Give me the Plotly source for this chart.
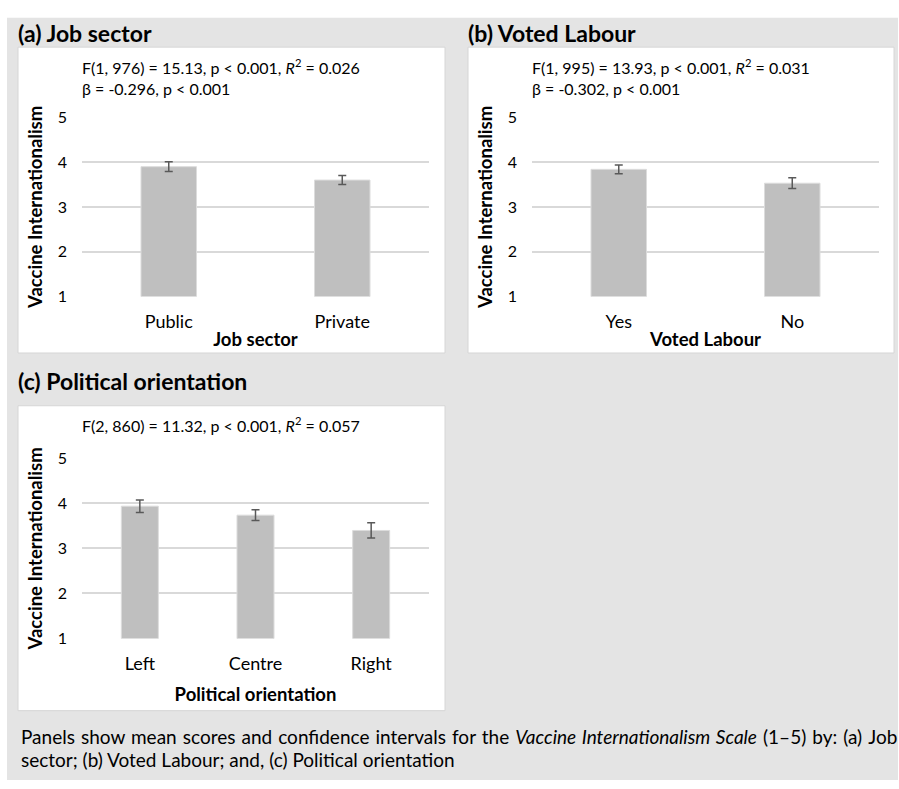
import plotly.graph_objects as go

# ---- data -------------------------------------------------------------
sector_cats = ["Public", "Private"]
sector_means = [3.90, 3.60]
sector_ci = [0.11, 0.10]

labour_cats = ["Yes", "No"]
labour_means = [3.84, 3.53]
labour_ci = [0.10, 0.12]

politics_cats = ["Left", "Centre", "Right"]
politics_means = [3.94, 3.74, 3.40]
politics_ci = [0.14, 0.12, 0.17]

y_ticks = [1, 2, 3, 4, 5]

y_title = "Vaccine Internationalism"
x_titles = ["Job sector", "Voted Labour", "Political orientation"]

# ---- page geometry (pixels) ------------------------------------------
W, H = 899, 789
FONT = "Lato"
BAR = "#BFBFBF"
GRID = "#D9D9D9"
PAD = 0.005  # tiny range padding so the gridlines at 1 and 5 are kept


def px(x):
    return x / W


def py(y):
    return 1 - y / H


fig = go.Figure()

panels = [
    # (x-axis id, y-axis id, categories, means, ci, x px range, y px range)
    ("x", "y", sector_cats, sector_means, sector_ci, (82, 429), (110, 293)),
    ("x2", "y2", labour_cats, labour_means, labour_ci, (532, 879), (110, 293)),
    ("x3", "y3", politics_cats, politics_means, politics_ci, (82, 429), (459, 643)),
]
x_title_standoff = [2, 2, 15]

for xa, ya, cats, means, ci, _, _ in panels:
    fig.add_trace(go.Bar(
        x=cats, y=means, xaxis=xa, yaxis=ya,
        marker=dict(color=BAR, line=dict(color="#DCDCDC", width=1)),
        error_y=dict(type="data", array=ci, visible=True,
                     color="#595959", thickness=1.5, width=4),
        width=0.32, showlegend=False, hoverinfo="skip",
    ))

layout = dict(
    width=W, height=H,
    margin=dict(l=0, r=0, t=0, b=0),
    paper_bgcolor="white", plot_bgcolor="rgba(0,0,0,0)",
    font=dict(family=FONT, size=15, color="#000000"),
    showlegend=False,
)

for i, (xa, ya, cats, means, ci, xr, yr) in enumerate(panels):
    suffix = "" if i == 0 else str(i + 1)
    unit = (yr[1] - yr[0]) / 4.0
    layout["xaxis" + suffix] = dict(
        domain=[px(xr[0]), px(xr[1])], anchor=ya,
        showgrid=False, showline=False, zeroline=False,
        ticks="", tickfont=dict(family=FONT, size=18, color="#000"),
        ticklabelstandoff=12, fixedrange=True,
        title=dict(text=f"<b>{x_titles[i]}</b>", standoff=x_title_standoff[i],
                   font=dict(family=FONT, size=18.5, color="#000")),
    )
    layout["yaxis" + suffix] = dict(
        domain=[py(yr[1] + PAD * unit), py(yr[0] - PAD * unit)], anchor=xa,
        range=[1 - PAD, 5 + PAD], tickvals=y_ticks,
        showgrid=True, gridcolor=GRID, gridwidth=1.5,
        showline=False, zeroline=False, ticks="",
        tickfont=dict(family=FONT, size=16, color="#000"),
        ticklabelstandoff=14, fixedrange=True,
        title=dict(text=f"<b>{y_title}</b>", standoff=10,
                   font=dict(family=FONT, size=18.5, color="#000")),
    )

fig.update_layout(**layout)

# ---- background and panel boxes --------------------------------------
shapes = [
    dict(type="rect", xref="paper", yref="paper",
         x0=px(7), x1=px(898), y0=py(788), y1=py(8),
         fillcolor="#E4E4E4", line=dict(width=0), layer="below"),
]
for (x0, y0, x1, y1) in [(18, 38, 445, 351), (468, 38, 894, 351), (18, 405, 445, 717)]:
    shapes.append(dict(type="rect", xref="paper", yref="paper",
                       x0=px(x0), x1=px(x1), y0=py(y1), y1=py(y0),
                       fillcolor="white", line=dict(color="#D6D6D6", width=1),
                       layer="below"))
fig.update_layout(shapes=shapes)

# ---- text -------------------------------------------------------------
annotations = []


def note(text, x, y, size=15, xanchor="left", bold=False):
    annotations.append(dict(
        text=f"<b>{text}</b>" if bold else text,
        x=px(x), y=py(y), xref="paper", yref="paper",
        xanchor=xanchor, yanchor="middle", showarrow=False,
        font=dict(family=FONT, size=size, color="#000"),
    ))


# panel headings
note("(a) Job sector", 16, 24, size=23, bold=True)
note("(b) Voted Labour", 466, 24, size=23, bold=True)
note("(c) Political orientation", 16, 380, size=23, bold=True)

# model statistics
note("F(1, 976) = 15.13, p < 0.001, <i>R</i><sup>2</sup> = 0.026", 80, 58, size=16)
note("β = -0.296, p < 0.001", 80, 80, size=16)
note("F(1, 995) = 13.93, p < 0.001, <i>R</i><sup>2</sup> = 0.031", 530, 58, size=16)
note("β = -0.302, p < 0.001", 530, 80, size=16)
note("F(2, 860) = 11.32, p < 0.001, <i>R</i><sup>2</sup> = 0.057", 80, 424, size=16)

# caption (first line is justified: word gaps widened with hair spaces)
line1 = ("Panels show mean scores and confidence intervals for the "
         "<i>Vaccine Internationalism Scale</i> (1–5) by: (a) Job")
note(line1.replace(" ", " \u200a"), 19, 743, size=19)
note("sector; (b) Voted Labour; and, (c) Political orientation", 19, 767, size=19)

fig.update_layout(annotations=annotations)

fig.write_html("out.html")
